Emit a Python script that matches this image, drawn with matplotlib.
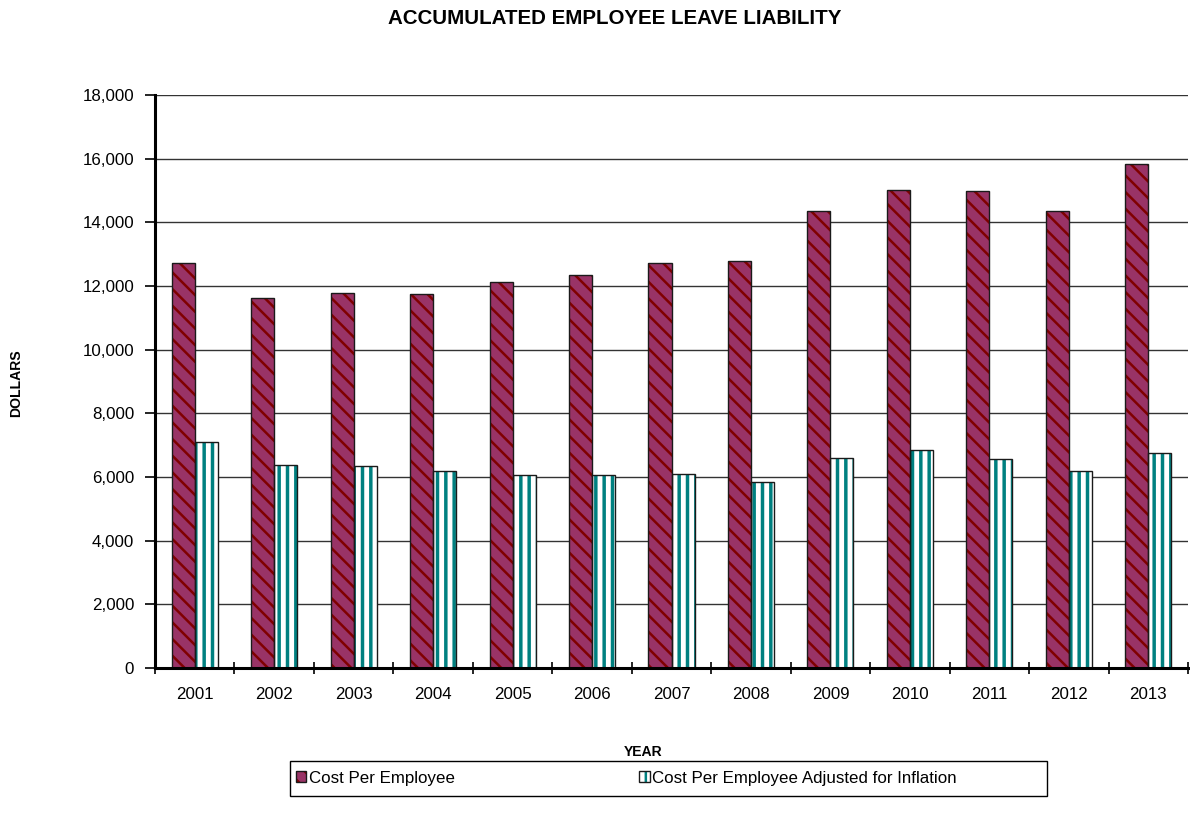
import matplotlib
matplotlib.use("Agg")
import matplotlib.pyplot as plt
from matplotlib import font_manager
from matplotlib.patches import Rectangle
from matplotlib.legend_handler import HandlerTuple
from matplotlib.ticker import FuncFormatter, FixedLocator

years = ["2001", "2002", "2003", "2004", "2005", "2006", "2007",
         "2008", "2009", "2010", "2011", "2012", "2013"]
cost_per_employee = [12720, 11610, 11790, 11750, 12120, 12340, 12720,
                     12800, 14350, 15010, 14970, 14370, 15820]
cost_adjusted = [7110, 6380, 6350, 6180, 6050, 6050, 6100,
                 5840, 6600, 6860, 6560, 6180, 6740]
y_ticks = [0, 2000, 4000, 6000, 8000, 10000, 12000, 14000, 16000, 18000]

available = {f.name for f in font_manager.fontManager.ttflist}
if "Liberation Sans Narrow" in available:
    FAMILY = ["Liberation Sans Narrow", "Liberation Sans", "DejaVu Sans"]
    SCALE = 1.0
else:
    FAMILY = ["Liberation Sans", "DejaVu Sans"]
    SCALE = 0.84

plt.rcParams["font.family"] = FAMILY
plt.rcParams["hatch.linewidth"] = 1.8

W, H = 1190, 823
fig = plt.figure(figsize=(W / 100, H / 100), dpi=100)
ax = fig.add_axes([155 / W, 1 - 668 / H, (1188 - 155) / W, (668 - 95) / H])

x = list(range(len(years)))
bw = 0.29
x_red = [i - bw / 2 for i in x]
x_teal = [i + bw / 2 for i in x]

red_fill = ax.bar(x_red, cost_per_employee, width=bw, color="#993366",
                  hatch="\\\\", edgecolor="#800000", linewidth=0, zorder=3)
red_edge = ax.bar(x_red, cost_per_employee, width=bw, fill=False,
                  edgecolor="#1a1a1a", linewidth=1.0, zorder=4)
teal_fill = ax.bar(x_teal, cost_adjusted, width=bw, color="white",
                   hatch="||", edgecolor="#008080", linewidth=0, zorder=3)
teal_edge = ax.bar(x_teal, cost_adjusted, width=bw, fill=False,
                   edgecolor="#1a1a1a", linewidth=1.0, zorder=4)

# slightly heavier vertical stripes where per-patch hatch width is supported
for p in teal_fill:
    if hasattr(p, "set_hatch_linewidth"):
        p.set_hatch_linewidth(2.5)

ax.set_xlim(-0.5, len(years) - 0.5)
ax.set_ylim(0, 18000)

# y axis
ax.yaxis.set_major_locator(FixedLocator(y_ticks))
ax.yaxis.set_major_formatter(FuncFormatter(lambda v, p: f"{int(v):,}"))
ax.tick_params(axis="y", direction="out", length=7, width=1.2,
               pad=8, labelsize=14.5 * SCALE, colors="black")
ax.grid(axis="y", color="#333333", linewidth=1.0, zorder=1)

# x axis: boundary ticks, labels centred on categories
ax.xaxis.set_major_locator(FixedLocator([i - 0.5 for i in range(len(years) + 1)]))
ax.xaxis.set_major_formatter(FuncFormatter(lambda v, p: ""))
ax.xaxis.set_minor_locator(FixedLocator(x))
ax.set_xticklabels(years, minor=True)
ax.tick_params(axis="x", which="major", direction="inout", length=9, width=1.2)
ax.tick_params(axis="x", which="minor", length=0, pad=14,
               labelsize=14.5 * SCALE)

for side in ("top", "right"):
    ax.spines[side].set_visible(False)
ax.spines["left"].set_linewidth(2.2)
ax.spines["bottom"].set_linewidth(2.2)
ax.spines["left"].set_zorder(5)
ax.spines["bottom"].set_zorder(5)

title_size = 18 * (0.82 if SCALE < 1 else 1)
fig.text(615 / W, 1 - 18 / H, "ACCUMULATED EMPLOYEE LEAVE LIABILITY",
         ha="center", va="center", fontsize=title_size, fontweight="bold")
fig.text(16 / W, 1 - 383 / H, "DOLLARS", rotation=90, ha="center",
         va="center", fontsize=12 * SCALE, fontweight="bold")
fig.text(643 / W, 1 - 752 / H, "YEAR", ha="center", va="center",
         fontsize=12 * SCALE, fontweight="bold")

# legend with a rectangular frame
fig.patches.append(Rectangle((290 / W, 1 - 796 / H), (1047 - 290) / W,
                             (796 - 761) / H, transform=fig.transFigure,
                             fill=False, edgecolor="black", linewidth=1.0))
fig.legend([(red_fill[0], red_edge[0]), (teal_fill[0], teal_edge[0])],
           ["Cost Per Employee", "Cost Per Employee Adjusted for Inflation"],
           handler_map={tuple: HandlerTuple(ndivide=1)},
           loc="center left", bbox_to_anchor=(296 / W, 1 - 778 / H),
           ncol=2, frameon=False, fontsize=14.5 * SCALE,
           handlelength=0.62, handleheight=0.62, handletextpad=0.15,
           columnspacing=10.9, borderpad=0, borderaxespad=0)

fig.savefig("out.png", dpi=100)
